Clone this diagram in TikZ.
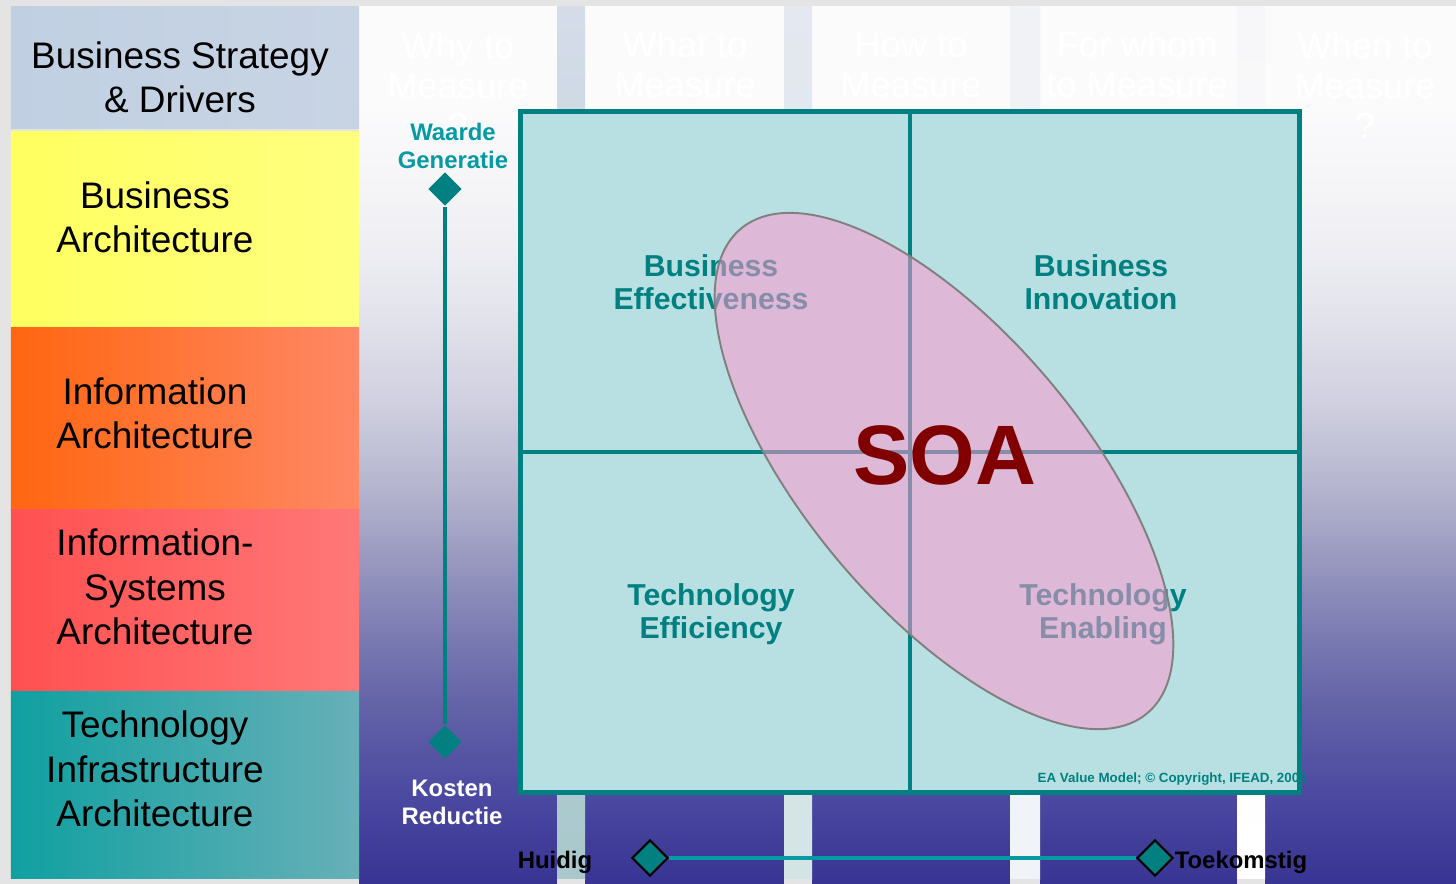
\documentclass[tikz,border=0pt]{standalone}
\usepackage{fontspec}
\setmainfont{Liberation Sans}
\usetikzlibrary{positioning,shapes.geometric}
\definecolor{eateal}{RGB}{0,128,128}
\definecolor{eacyan}{RGB}{184,224,226}
\definecolor{axisteal}{RGB}{6,154,164}
\definecolor{soared}{RGB}{128,0,0}
\definecolor{soapink}{RGB}{255,152,207}
\definecolor{soaedge}{RGB}{128,128,128}
\definecolor{pagegrey}{RGB}{228,228,228}
% layer colours (left / right)
\definecolor{stratL}{RGB}{192,208,226}
\definecolor{stratR}{RGB}{200,212,228}
\definecolor{busL}{RGB}{255,255,96}
\definecolor{busR}{RGB}{255,255,128}
\definecolor{infL}{RGB}{255,102,16}
\definecolor{infR}{RGB}{255,136,102}
\definecolor{isL}{RGB}{255,80,80}
\definecolor{isR}{RGB}{255,120,120}
\definecolor{techL}{RGB}{16,160,160}
\definecolor{techR}{RGB}{104,176,184}
% stripe colours (top / bottom)
\definecolor{stripeAt}{RGB}{212,220,232}
\definecolor{stripeAb}{RGB}{168,200,204}
\definecolor{stripeBt}{RGB}{228,232,240}
\definecolor{stripeBb}{RGB}{212,228,228}
\definecolor{stripeCt}{RGB}{240,242,246}
\definecolor{stripeCb}{RGB}{240,244,248}
\definecolor{stripeDt}{RGB}{247,247,249}
\definecolor{stripeDb}{RGB}{255,255,255}
% backdrop fade
\definecolor{fadeA}{RGB}{56,52,148}
\definecolor{fadeB}{RGB}{74,72,160}
\definecolor{fadeC}{RGB}{100,100,168}
\definecolor{fadeD}{RGB}{136,136,184}
\definecolor{fadeE}{RGB}{176,176,204}
\definecolor{fadeF}{RGB}{208,208,224}
\definecolor{fadeG}{RGB}{230,230,238}
\definecolor{fadeH}{RGB}{244,244,247}
\definecolor{fadeI}{RGB}{251,251,252}
% the path gets the middle half (25bp to 75bp) of the shading
\pgfdeclareverticalshading{bgfade}{100bp}{color(0bp)=(fadeA); color(25bp)=(fadeA);
    color(29.8bp)=(fadeB); color(35.5bp)=(fadeC); color(41.15bp)=(fadeD);
    color(46.85bp)=(fadeE); color(52.5bp)=(fadeF); color(58.25bp)=(fadeG);
    color(64bp)=(fadeH); color(69.5bp)=(fadeI); color(100bp)=(fadeI)}
\tikzset{layertext/.style={font=\fontsize{10.5}{12.6}\selectfont,
                           align=center,text=black}}
\tikzset{quadtext/.style={font=\fontsize{8.6}{9.4}\selectfont\bfseries,
                          align=center,text=eateal}}
\tikzset{axistext/.style={font=\fontsize{6.8}{8}\selectfont\bfseries,
                          align=center,inner sep=0pt}}
\tikzset{columntext/.style={font=\fontsize{10.3}{11.4}\selectfont,
                            align=center,text=white}}
\tikzset{axisdiamond/.style={diamond,fill=eateal,inner sep=0pt,
                             minimum width=0.34cm,minimum height=0.34cm}}
\tikzset{timediamond/.style={axisdiamond,draw=black,line width=0.6pt,
                             minimum width=0.36cm,minimum height=0.36cm}}
\tikzset{soaellipse/.style={ellipse,draw=soaedge,line width=0.55pt,
                            fill=soapink,fill opacity=0.53,inner sep=0pt,
                            minimum width=6.32cm,minimum height=2.77cm}}
\begin{document}
\begin{tikzpicture}[x=0.01cm,y=-0.01cm]
    \useasboundingbox (0,0) rectangle (1456,884);
    % Page and fading backdrop
    \fill[pagegrey] (0,0) rectangle (1456,884);
    \shade[shading=bgfade] (359,6) rectangle (1456,884);
    % Stripes between the columns
    \foreach \xa/\xb/\tc/\bc in {557/585/stripeAt/stripeAb,784/812/stripeBt/stripeBb,
                                 1010/1040/stripeCt/stripeCb,1237/1265/stripeDt/stripeDb}{%
          \shade[top color=\tc,bottom color=\bc] (\xa,6) rectangle (\xb,879);
          \fill[pagegrey] (\xa,879) rectangle (\xb,884);
        }
    % Column headings (white on white)
    \foreach \x/\y/\h [count=\ci] in {458/85/{Why to\\Measure\\?},685/65/{What to\\Measure},
                                      911/65/{How to\\Measure},1137/65/{For whom\\to Measure},
                                      1365/85/{When to\\Measure\\?}}{%
          \node[columntext] (col\ci) at (\x,\y) {\h};
        }
    % Architecture layers
    \foreach \ya/\yb/\lc/\rc in {6/128/stratL/stratR,131/327/busL/busR,327/509/infL/infR,
                                 509/691/isL/isR,691/878/techL/techR}{%
          \shade[left color=\lc,right color=\rc] (11,\ya) rectangle (359,\yb);
        }
    \node[layertext] (strategy) at (180,77) {Business Strategy\\\& Drivers};
    \node[layertext] (business) at (155,217) {Business\\Architecture};
    \node[layertext] (information) at (155,413) {Information\\Architecture};
    \node[layertext] (infosys) at (155,587) {Information-\\Systems\\Architecture};
    \node[layertext] (technology) at (155,769) {Technology\\Infrastructure\\Architecture};
    % Value grid
    \node[fill=eacyan,inner sep=0pt,minimum width=7.77cm,minimum height=6.8cm] (grid) at (910,452) {};
    \node[quadtext] (effect) at (711,282) {Business\\Effectiveness};
    \node[quadtext] (innov) at (1101,282) {Business\\Innovation};
    \node[quadtext] (effic) at (711,614) {Technology\\Efficiency};
    \node[quadtext] (enabl) at (1103,614) {Technology\\Enabling};
    \draw[eateal,line width=1pt] (grid.north) -- (grid.south)
                                 (grid.west) -- (grid.east);
    % SOA ellipse across the quadrants
    \node[soaellipse,rotate=-50] (soa) at (944,471) {};
    \node[font=\fontsize{24}{28}\selectfont\bfseries,text=soared] (soalabel) at (945,455) {SOA};
    \node[font=\fontsize{3.8}{4.5}\selectfont\bfseries,text=eateal,anchor=west,inner sep=0pt]
        (copyright) at (1037,779) {EA Value Model; \textcopyright{} Copyright, IFEAD, 2006};
    \draw[eateal,line width=1.4pt] (grid.north west) rectangle (grid.south east);
    % Vertical axis
    \node[axisdiamond] (vtop) at (445,189) {};
    \node[axisdiamond] (vbot) at (445,742) {};
    \draw[eateal,line width=1.1pt] (vtop) -- (vbot);
    \node[axistext,text=axisteal] (waarde) at (453,146) {Waarde\\Generatie};
    \node[axistext,text=white] (kosten) at (452,802) {Kosten\\Reductie};
    % Horizontal axis
    \node[timediamond] (hleft) at (650,858) {};
    \node[timediamond] (hright) at (1155,858) {};
    \draw[axisteal,line width=1.2pt] (hleft) -- (hright);
    \node[axistext,left=0.38cm of hleft,yshift=-0.04cm] (huidig) {Huidig};
    \node[axistext,right=0pt of hright,yshift=-0.04cm] (toekomst) {Toekomstig};
\end{tikzpicture}
\end{document}
